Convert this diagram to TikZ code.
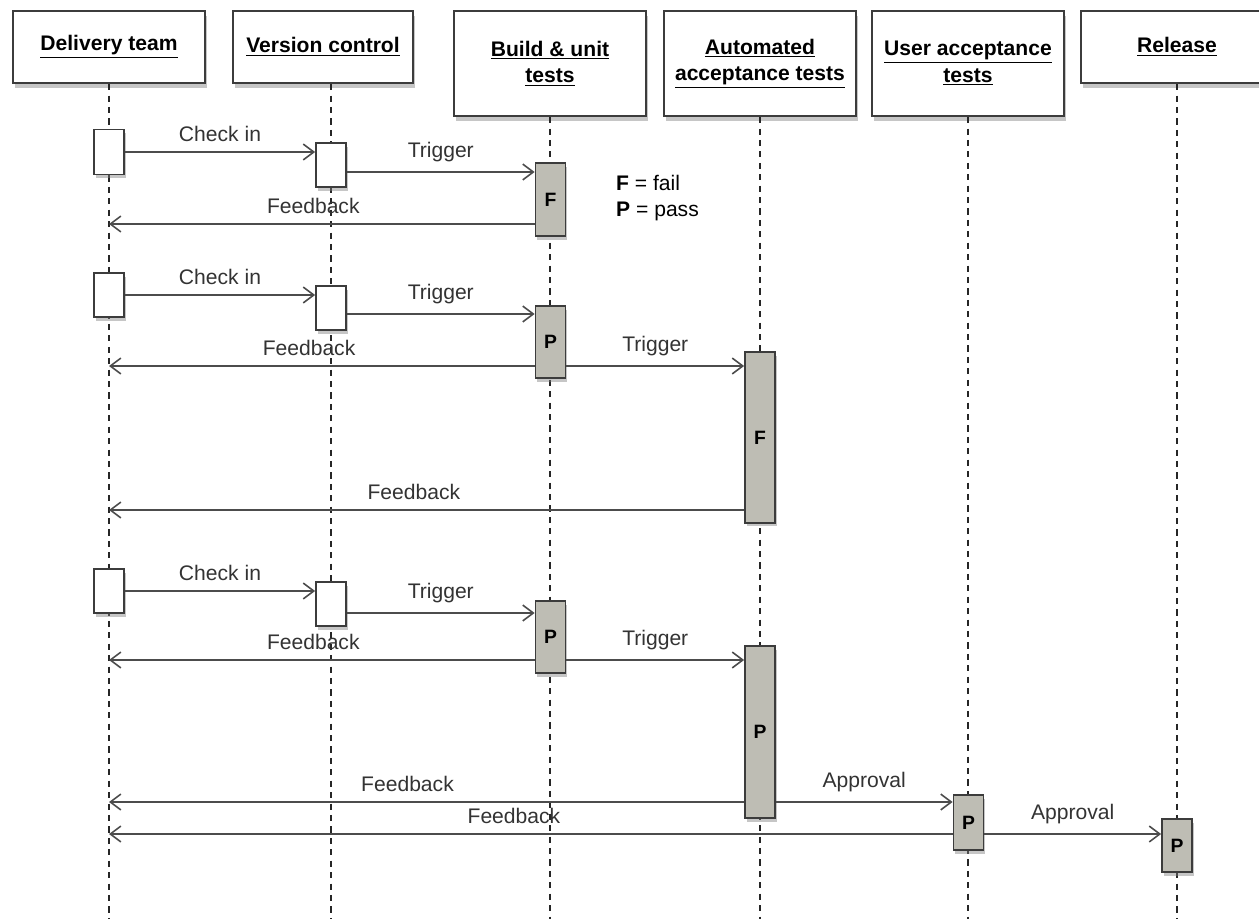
\documentclass[tikz,border=0pt]{standalone}
\usepackage{fontspec}
\setmainfont{Liberation Sans}
\usetikzlibrary{arrows.meta,shadows}

\definecolor{actgray}{RGB}{190,189,180}
\definecolor{edgegray}{RGB}{60,60,60}
\tikzset{
  hdr/.style={draw=edgegray, line width=1.2pt, fill=white, align=center, anchor=north,
    minimum width=3.84cm, font=\bfseries\fontsize{12}{15}\selectfont,
    drop shadow={shadow xshift=1pt, shadow yshift=-3pt, opacity=0.45}},
  act/.style={draw=edgegray, line width=1pt, fill=white, minimum width=0.6cm, inner sep=0pt,
    font=\bfseries\fontsize{11}{13}\selectfont,
    drop shadow={shadow xshift=1pt, shadow yshift=-2pt, opacity=0.45}},
  actg/.style={act, fill=actgray},
  msg/.style={draw=gray!60!black, line width=0.9pt, -{Straight Barb[length=6pt,width=9pt]}},
  life/.style={draw=gray!30!black, line width=0.9pt, dash pattern=on 3.5pt off 3pt},
  lbl/.style={above=2pt, font=\fontsize{12}{14}\selectfont, text=black!80}
}

\begin{document}
\begin{tikzpicture}[x=0.02cm, y=-0.02cm]
\useasboundingbox (0,0) rectangle (1259,919);

% headers
\node[hdr, minimum height=1.44cm] (dt) at (109,10) {\underline{Delivery team}};
\node[hdr, minimum height=1.44cm, minimum width=3.6cm] (vc) at (323,10) {\underline{Version control}};
\node[hdr, minimum height=2.1cm] (but) at (550,10) {\underline{Build \& unit}\\\underline{tests}};
\node[hdr, minimum height=2.1cm] (aat) at (760,10) {\underline{Automated}\\\underline{acceptance tests}};
\node[hdr, minimum height=2.1cm] (uat) at (968,10) {\underline{User acceptance}\\\underline{tests}};
\node[hdr, minimum height=1.44cm] (rel) at (1177,10) {\underline{Release}};

% rows of the messages
\coordinate (bot) at (0,919);
\coordinate (r1b) at (0,172);
\coordinate (r1c) at (0,224);
\coordinate (r2b) at (0,314);
\coordinate (r2c) at (0,366);
\coordinate (r2d) at (0,510);
\coordinate (r3b) at (0,613);
\coordinate (r3c) at (0,660);
\coordinate (r3d) at (0,802);
\coordinate (r3e) at (0,834);

% lifelines
\coordinate (vcx) at (331,0);
\foreach \h/\x in {dt/dt, vc/vcx, but/but, aat/aat, uat/uat, rel/rel}
  \draw[life] (\h.south -| \x) -- (\x |- bot);

% activations
\node[act, minimum height=0.9cm] (dt1) at (109,152) {};
\node[act, minimum height=0.88cm] (vc1) at (331,165) {};
\node[actg, minimum height=1.46cm] (but1) at (550.5,199.5) {F};

\node[act, minimum height=0.88cm] (dt2) at (109,295) {};
\node[act, minimum height=0.88cm] (vc2) at (331,308) {};
\node[actg, minimum height=1.44cm] (but2) at (550.5,342) {P};
\node[actg, minimum height=3.42cm] (aat1) at (760,437.5) {F};

\node[act, minimum height=0.88cm] (dt3) at (109,591) {};
\node[act, minimum height=0.88cm] (vc3) at (331,604) {};
\node[actg, minimum height=1.44cm] (but3) at (550.5,637) {P};
\node[actg, minimum height=3.44cm] (aat2) at (760,732) {P};
\node[actg, minimum height=1.1cm] (uat1) at (968.5,822.5) {P};
\node[actg, minimum height=1.06cm] (rel1) at (1177,845.5) {P};

\node[anchor=west, align=left, font=\fontsize{12}{14.7}\selectfont] (key) at (610,198)
  {\textbf{F} = fail\\\textbf{P} = pass};

% first run
\draw[msg] (dt1.east) -- node[lbl] {Check in} (dt1.east -| vc1.west);
\draw[msg] (vc1.east |- r1b) -- node[lbl] {Trigger} (but1.west |- r1b);
\draw[msg] (but1.west |- r1c) -- node[lbl, pos=0.52] {Feedback} (dt1 |- r1c);

% second run
\draw[msg] (dt2.east) -- node[lbl] {Check in} (dt2.east -| vc2.west);
\draw[msg] (vc2.east |- r2b) -- node[lbl] {Trigger} (but2.west |- r2b);
\draw[msg] (but2.west |- r2c) -- node[lbl, pos=0.53] {Feedback} (dt2 |- r2c);
\draw[msg] (but2.east |- r2c) -- node[lbl] {Trigger} (aat1.west |- r2c);
\draw[msg] (aat1.west |- r2d) -- node[lbl, pos=0.52] {Feedback} (dt2 |- r2d);

% third run
\draw[msg] (dt3.east) -- node[lbl] {Check in} (dt3.east -| vc3.west);
\draw[msg] (vc3.east |- r3b) -- node[lbl] {Trigger} (but3.west |- r3b);
\draw[msg] (but3.west |- r3c) -- node[lbl, pos=0.52] {Feedback} (dt3 |- r3c);
\draw[msg] (but3.east |- r3c) -- node[lbl] {Trigger} (aat2.west |- r3c);
\draw[msg] (aat2.west |- r3d) -- node[lbl, pos=0.53] {Feedback} (dt3 |- r3d);
\draw[msg] (aat2.east |- r3d) -- node[lbl] {Approval} (uat1.west |- r3d);
\draw[msg] (uat1.west |- r3e) -- node[lbl, pos=0.52] {Feedback} (dt3 |- r3e);
\draw[msg] (uat1.east |- r3e) -- node[lbl] {Approval} (rel1.west |- r3e);
\end{tikzpicture}
\end{document}
